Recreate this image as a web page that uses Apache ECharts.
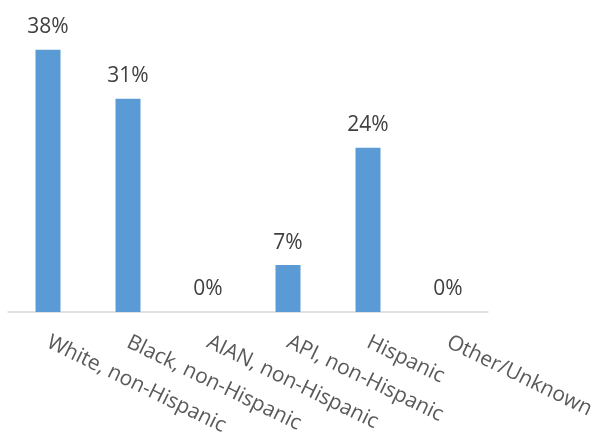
<!DOCTYPE html>
<html lang="en">
<head>
    <meta charset="utf-8">
    <script src="https://cdn.jsdelivr.net/npm/echarts@6/dist/echarts.min.js"></script>
    <style>
        html, body { margin: 0; padding: 0; background: #fff; }
        #main { width: 596px; height: 432px; }
    </style>
</head>
<body>
<div id="main"></div>
<script>
    var categories = ['White, non-Hispanic', 'Black, non-Hispanic', 'AIAN, non-Hispanic',
        'API, non-Hispanic', 'Hispanic', 'Other/Unknown'];
    // percent share (labels show rounded values)
    var shares = [38.0, 30.9, 0, 6.8, 23.8, 0];

    var myChart = echarts.init(document.getElementById('main'));

    var option = {
        backgroundColor: '#ffffff',
        textStyle: {fontFamily: 'Open Sans'},
        grid: {
            left: 8,
            right: 108,
            top: 36,
            bottom: 120,
            containLabel: false,
            outerBoundsMode: 'none'
        },
        xAxis: {
            type: 'category',
            data: categories,
            axisLine: {lineStyle: {color: '#d9d9d9', width: 1.5}},
            axisTick: {show: false},
            axisLabel: {
                interval: 0,
                rotate: -26,
                margin: 29,
                color: '#595959',
                fontSize: 21,
                fontFamily: 'Open Sans'
            }
        },
        yAxis: {
            type: 'value',
            min: 0,
            max: 40,
            show: false,
            splitLine: {show: false}
        },
        series: [{
            type: 'bar',
            data: shares,
            barWidth: 25,
            itemStyle: {color: '#5b9bd5'},
            label: {
                show: true,
                position: 'top',
                distance: 12,
                color: '#404040',
                fontSize: 21,
                fontFamily: 'Open Sans',
                formatter: function (p) {
                    return Math.round(p.value) + '%';
                }
            }
        }]
    };
    myChart.setOption(option);
</script>
</body>
</html>
